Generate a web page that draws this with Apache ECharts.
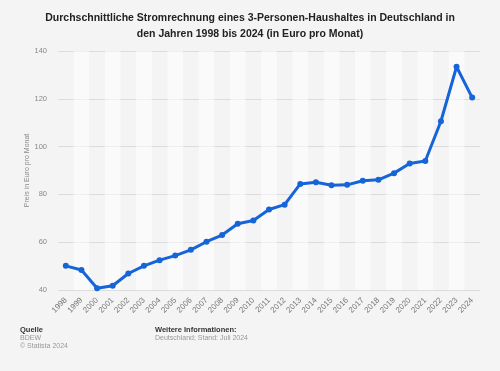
<!DOCTYPE html>
<html><head><meta charset="utf-8">
<script src="https://cdn.jsdelivr.net/npm/echarts@6/dist/echarts.min.js"></script>
<style>html,body{margin:0;padding:0;background:#f4f4f4;}#c{width:500px;height:371px;}</style>
</head><body><div id="c"></div>
<script>
const years = ['1998','1999','2000','2001','2002','2003','2004','2005','2006','2007','2008','2009','2010','2011','2012','2013','2014','2015','2016','2017','2018','2019','2020','2021','2022','2023','2024'];
const values = [50.1,48.4,40.7,41.8,46.9,50.1,52.5,54.4,56.8,60.2,63.0,67.7,69.1,73.7,75.7,84.4,85.1,83.8,84.0,85.7,86.1,88.9,92.9,94.0,110.6,133.4,120.5];
const yTicks = [40,60,80,100,120,140];
const titleText = 'Durchschnittliche Stromrechnung eines 3-Personen-Haushaltes in Deutschland in\nden Jahren 1998 bis 2024 (in Euro pro Monat)';
const yName = 'Preis in Euro pro Monat';

const chart = echarts.init(document.getElementById('c'), null, {renderer:'canvas'});
chart.setOption({
  backgroundColor:'#f4f4f4',
  animation:false,
  title:{text:titleText,left:'center',top:5,textStyle:{fontFamily:'Liberation Sans, Arial',fontSize:10.5,fontWeight:'bold',color:'#222',lineHeight:16}},
  grid:{left:58,right:20,top:51,bottom:81},
  xAxis:{type:'category',data:years,boundaryGap:true,
    axisLine:{show:false},axisTick:{show:false},
    axisLabel:{rotate:45,fontSize:8,color:'#777',fontFamily:'Liberation Sans, Arial',margin:9,interval:0},
    splitArea:{show:true,interval:0,areaStyle:{color:['rgba(0,0,0,0)','rgba(255,255,255,0.55)']}}},
  yAxis:{type:'value',min:40,max:140,interval:20,
    name:yName,nameLocation:'middle',nameGap:27,nameMoveOverlap:false,nameTextStyle:{fontSize:7,color:'#888',fontFamily:'Liberation Sans, Arial'},
    axisLine:{show:false},axisTick:{show:false},
    axisLabel:{fontSize:7.5,color:'#888',margin:11,fontFamily:'Liberation Sans, Arial'},
    splitLine:{lineStyle:{color:'#dcdcdc',width:1}}},
  series:[{type:'line',data:values,symbol:'circle',symbolSize:6,
    lineStyle:{color:'#1565d8',width:3},itemStyle:{color:'#1565d8'}}],
  graphic:[
    {type:'text',left:20,top:326,style:{text:'Quelle',fontSize:7.5,fontWeight:'bold',fill:'#333',fontFamily:'Liberation Sans, Arial'}},
    {type:'text',left:20,top:335,style:{text:'BDEW',fontSize:7,fill:'#999',fontFamily:'Liberation Sans, Arial'}},
    {type:'text',left:20,top:343,style:{text:'© Statista 2024',fontSize:7,fill:'#999',fontFamily:'Liberation Sans, Arial'}},
    {type:'text',left:155,top:326,style:{text:'Weitere Informationen:',fontSize:7.5,fontWeight:'bold',fill:'#333',fontFamily:'Liberation Sans, Arial'}},
    {type:'text',left:155,top:335,style:{text:'Deutschland; Stand: Juli 2024',fontSize:7,fill:'#999',fontFamily:'Liberation Sans, Arial'}}
  ]
});
</script></body></html>
